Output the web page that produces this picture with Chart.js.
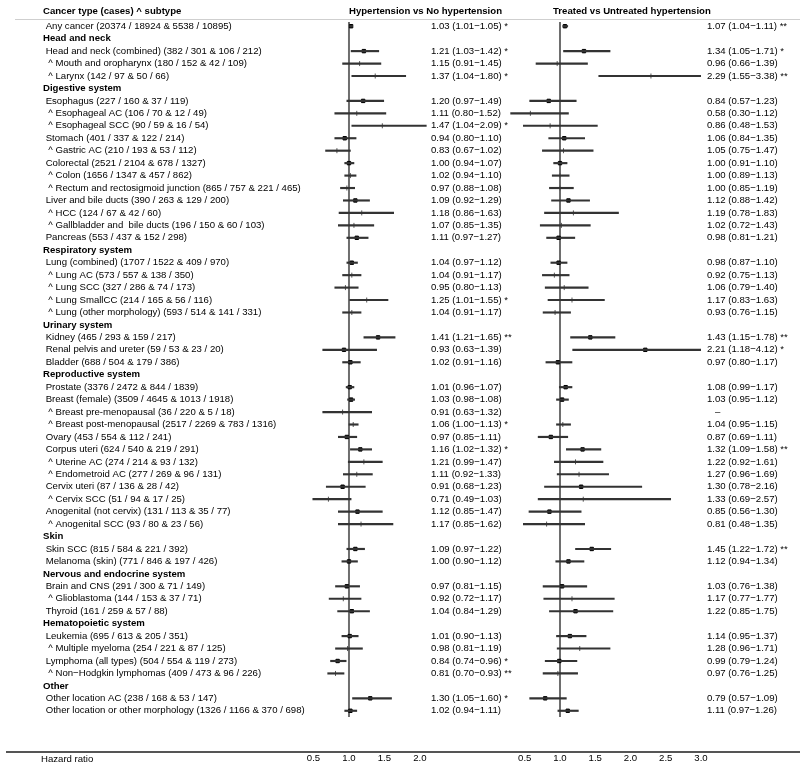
<!DOCTYPE html>
<html>
<head>
<meta charset="utf-8">
<script src="https://cdn.jsdelivr.net/npm/chart.js@4"></script>
<style>
  html, body { margin: 0; padding: 0; background: #fff; }
  #wrap { position: relative; width: 800px; height: 769px; font-family: "Liberation Sans", Arial, sans-serif; font-size: 9.6px; color: #000; }
  #wrap canvas { position: absolute; left: 0; top: 0; }
  .txt { position: absolute; white-space: pre; line-height: 12px; }
  .bold { font-weight: bold; }
  #sepTop { position: absolute; left: 15px; right: 0; top: 19px; height: 1px; background: #cfcfcf; }
  #sepBottom { position: absolute; left: 6px; right: 0; top: 751px; height: 2px; background: #555; }
</style>
</head>
<body>
<div id="wrap">
  <canvas id="c1" width="800" height="769"></canvas>
  <canvas id="c2" width="800" height="769"></canvas>
  <div id="sepTop"></div>
  <div id="sepBottom"></div>
  <div class="txt bold" style="left:43px; top:5px;">Cancer type (cases) ^ subtype</div>
  <div class="txt bold" style="left:349px; top:5px;">Hypertension vs No hypertension</div>
  <div class="txt bold" style="left:553px; top:5px;">Treated vs Untreated hypertension</div>
  <div class="txt" style="left:41px; top:753px;">Hazard ratio</div>
</div>
<script>
// rows (section headings have no estimates)
const rowLabels = [
  'Any cancer (20374 / 18924 & 5538 / 10895)',
  'Head and neck',
  'Head and neck (combined) (382 / 301 & 106 / 212)',
  '^ Mouth and oropharynx (180 / 152 & 42 / 109)',
  '^ Larynx (142 / 97 & 50 / 66)',
  'Digestive system',
  'Esophagus (227 / 160 & 37 / 119)',
  '^ Esophageal AC (106 / 70 & 12 / 49)',
  '^ Esophageal SCC (90 / 59 & 16 / 54)',
  'Stomach (401 / 337 & 122 / 214)',
  '^ Gastric AC (210 / 193 & 53 / 112)',
  'Colorectal (2521 / 2104 & 678 / 1327)',
  '^ Colon (1656 / 1347 & 457 / 862)',
  '^ Rectum and rectosigmoid junction (865 / 757 & 221 / 465)',
  'Liver and bile ducts (390 / 263 & 129 / 200)',
  '^ HCC (124 / 67 & 42 / 60)',
  '^ Gallbladder and  bile ducts (196 / 150 & 60 / 103)',
  'Pancreas (553 / 437 & 152 / 298)',
  'Respiratory system',
  'Lung (combined) (1707 / 1522 & 409 / 970)',
  '^ Lung AC (573 / 557 & 138 / 350)',
  '^ Lung SCC (327 / 286 & 74 / 173)',
  '^ Lung SmallCC (214 / 165 & 56 / 116)',
  '^ Lung (other morphology) (593 / 514 & 141 / 331)',
  'Urinary system',
  'Kidney (465 / 293 & 159 / 217)',
  'Renal pelvis and ureter (59 / 53 & 23 / 20)',
  'Bladder (688 / 504 & 179 / 386)',
  'Reproductive system',
  'Prostate (3376 / 2472 & 844 / 1839)',
  'Breast (female) (3509 / 4645 & 1013 / 1918)',
  '^ Breast pre-menopausal (36 / 220 & 5 / 18)',
  '^ Breast post-menopausal (2517 / 2269 & 783 / 1316)',
  'Ovary (453 / 554 & 112 / 241)',
  'Corpus uteri (624 / 540 & 219 / 291)',
  '^ Uterine AC (274 / 214 & 93 / 132)',
  '^ Endometroid AC (277 / 269 & 96 / 131)',
  'Cervix uteri (87 / 136 & 28 / 42)',
  '^ Cervix SCC (51 / 94 & 17 / 25)',
  'Anogenital (not cervix) (131 / 113 & 35 / 77)',
  '^ Anogenital SCC (93 / 80 & 23 / 56)',
  'Skin',
  'Skin SCC (815 / 584 & 221 / 392)',
  'Melanoma (skin) (771 / 846 & 197 / 426)',
  'Nervous and endocrine system',
  'Brain and CNS (291 / 300 & 71 / 149)',
  '^ Glioblastoma (144 / 153 & 37 / 71)',
  'Thyroid (161 / 259 & 57 / 88)',
  'Hematopoietic system',
  'Leukemia (695 / 613 & 205 / 351)',
  '^ Multiple myeloma (254 / 221 & 87 / 125)',
  'Lymphoma (all types) (504 / 554 & 119 / 273)',
  '^ Non\u2212Hodgkin lymphomas (409 / 473 & 96 / 226)',
  'Other',
  'Other location AC (238 / 168 & 53 / 147)',
  'Other location or other morphology (1326 / 1166 & 370 / 698)'
];

// Hypertension vs No hypertension
const hr1 = [1.03, null, 1.21, 1.15, 1.37, null, 1.20, 1.11, 1.47, 0.94, 0.83, 1.00, 1.02, 0.97, 1.09, 1.18, 1.07, 1.11, null, 1.04, 1.04, 0.95, 1.25, 1.04, null, 1.41, 0.93, 1.02, null, 1.01, 1.03, 0.91, 1.06, 0.97, 1.16, 1.21, 1.11, 0.91, 0.71, 1.12, 1.17, null, 1.09, 1.00, null, 0.97, 0.92, 1.04, null, 1.01, 0.98, 0.84, 0.81, null, 1.30, 1.02];
const lo1 = [1.01, null, 1.03, 0.91, 1.04, null, 0.97, 0.80, 1.04, 0.80, 0.67, 0.94, 0.94, 0.88, 0.92, 0.86, 0.85, 0.97, null, 0.97, 0.91, 0.80, 1.01, 0.91, null, 1.21, 0.63, 0.91, null, 0.96, 0.98, 0.63, 1.00, 0.85, 1.02, 0.99, 0.92, 0.68, 0.49, 0.85, 0.85, null, 0.97, 0.90, null, 0.81, 0.72, 0.84, null, 0.90, 0.81, 0.74, 0.70, null, 1.05, 0.94];
const hi1 = [1.05, null, 1.42, 1.45, 1.80, null, 1.49, 1.52, 2.09, 1.10, 1.02, 1.07, 1.10, 1.08, 1.29, 1.63, 1.35, 1.27, null, 1.12, 1.17, 1.13, 1.55, 1.17, null, 1.65, 1.39, 1.16, null, 1.07, 1.08, 1.32, 1.13, 1.11, 1.32, 1.47, 1.33, 1.23, 1.03, 1.47, 1.62, null, 1.22, 1.12, null, 1.15, 1.17, 1.29, null, 1.13, 1.19, 0.96, 0.93, null, 1.60, 1.11];
const sig1 = ['*', '', '*', '', '*', '', '', '', '*', '', '', '', '', '', '', '', '', '', '', '', '', '', '*', '', '', '**', '', '', '', '', '', '', '*', '', '*', '', '', '', '', '', '', '', '', '', '', '', '', '', '', '', '', '*', '**', '', '*', ''];

// Treated vs Untreated hypertension
const hr2 = [1.07, null, 1.34, 0.96, 2.29, null, 0.84, 0.58, 0.86, 1.06, 1.05, 1.00, 1.00, 1.00, 1.12, 1.19, 1.02, 0.98, null, 0.98, 0.92, 1.06, 1.17, 0.93, null, 1.43, 2.21, 0.97, null, 1.08, 1.03, null, 1.04, 0.87, 1.32, 1.22, 1.27, 1.30, 1.33, 0.85, 0.81, null, 1.45, 1.12, null, 1.03, 1.17, 1.22, null, 1.14, 1.28, 0.99, 0.97, null, 0.79, 1.11];
const lo2 = [1.04, null, 1.05, 0.66, 1.55, null, 0.57, 0.30, 0.48, 0.84, 0.75, 0.91, 0.89, 0.85, 0.88, 0.78, 0.72, 0.81, null, 0.87, 0.75, 0.79, 0.83, 0.76, null, 1.15, 1.18, 0.80, null, 0.99, 0.95, null, 0.95, 0.69, 1.09, 0.92, 0.96, 0.78, 0.69, 0.56, 0.48, null, 1.22, 0.94, null, 0.76, 0.77, 0.85, null, 0.95, 0.96, 0.79, 0.76, null, 0.57, 0.97];
const hi2 = [1.11, null, 1.71, 1.39, 3.38, null, 1.23, 1.12, 1.53, 1.35, 1.47, 1.10, 1.13, 1.19, 1.42, 1.83, 1.43, 1.21, null, 1.10, 1.13, 1.40, 1.63, 1.15, null, 1.78, 4.12, 1.17, null, 1.17, 1.12, null, 1.15, 1.11, 1.58, 1.61, 1.69, 2.16, 2.57, 1.30, 1.35, null, 1.72, 1.34, null, 1.38, 1.77, 1.75, null, 1.37, 1.71, 1.24, 1.25, null, 1.09, 1.26];
const sig2 = ['**', '', '*', '', '**', '', '', '', '', '', '', '', '', '', '', '', '', '', '', '', '', '', '', '', '', '**', '*', '', '', '', '', '', '', '', '**', '', '', '', '', '', '', '', '**', '', '', '', '', '', '', '', '', '', '', '', '', ''];

const xTicks1 = [0.5, 1.0, 1.5, 2.0];
const xTicks2 = [0.5, 1.0, 1.5, 2.0, 2.5, 3.0];

const FONT = '"Liberation Sans", Arial, sans-serif';
const FS = 9.6;
const isHead = hr1.map(v => v === null);
const isSub = rowLabels.map(l => l.startsWith('^'));
const shownLabels = rowLabels.map((l, i) => isHead[i] ? l : (isSub[i] ? '  ' + l : ' ' + l));

function f2(v) { return v.toFixed(2); }
function ciText(hr, lo, hi, sig) {
  return hr.map((v, i) => {
    if (isHead[i]) return '';
    if (v === null) return '   \u2013';
    return `${f2(v)} (${f2(lo[i])}\u2212${f2(hi[i])})` + (sig[i] ? ' ' + sig[i] : '');
  });
}
const ci1 = ciText(hr1, lo1, hi1, sig1);
const ci2 = ciText(hr2, lo2, hi2, sig2);

// vertical line at HR = 1
const refLine = {
  id: 'refLine',
  beforeDatasetsDraw(chart) {
    const { ctx, chartArea, scales } = chart;
    const x = scales.x.getPixelForValue(1);
    ctx.save();
    ctx.strokeStyle = '#6e6e6e';
    ctx.lineWidth = 2;
    ctx.beginPath();
    ctx.moveTo(x, chartArea.top + 2);
    ctx.lineTo(x, chartArea.bottom);
    ctx.stroke();
    ctx.restore();
  }
};

function forestDatasets(hr, lo, hi) {
  return [
    {
      type: 'bar',
      data: hr.map((v, i) => v === null ? null : [lo[i], hi[i]]),
      backgroundColor: '#333',
      barThickness: 1.5,
      borderWidth: 0,
      clip: 0,
      xAxisID: 'x',
      yAxisID: 'y'
    },
    {
      type: 'line',
      indexAxis: 'y',
      data: hr,
      showLine: false,
      pointStyle: isSub.map(s => s ? 'line' : 'rect'),
      pointRotation: isSub.map(s => s ? 90 : 0),
      pointRadius: isSub.map(s => s ? 2.5 : 2.4),
      pointBackgroundColor: '#000',
      pointBorderColor: isSub.map(s => s ? '#555' : '#000'),
      pointBorderWidth: 1,
      clip: 0,
      xAxisID: 'x',
      yAxisID: 'y'
    }
  ];
}

function xScale(min, max, ticks) {
  return {
    type: 'linear',
    position: 'bottom',
    min: min,
    max: max,
    grid: { display: false, drawTicks: false },
    border: { display: false },
    afterBuildTicks: s => { s.ticks = ticks.map(v => ({ value: v })); },
    afterFit: s => { s.height = 52; },
    ticks: {
      padding: 36,
      color: '#000',
      font: { family: FONT, size: FS },
      callback: v => v.toFixed(1)
    }
  };
}

function ciAxis(labels, width, pad) {
  return {
    type: 'category',
    position: 'right',
    labels: labels,
    offset: true,
    grid: { display: false, drawTicks: false },
    border: { display: false },
    afterFit: s => { s.width = width; },
    ticks: {
      autoSkip: false,
      crossAlign: 'near',
      padding: pad,
      color: '#000',
      font: { family: FONT, size: FS }
    }
  };
}

const common = {
  responsive: false,
  animation: false,
  devicePixelRatio: 1,
  indexAxis: 'y',
  plugins: { legend: { display: false }, tooltip: { enabled: false } }
};

// panel 1 with row labels on the left
new Chart(document.getElementById('c1'), {
  type: 'bar',
  data: { labels: shownLabels, datasets: forestDatasets(hr1, lo1, hi1) },
  options: Object.assign({}, common, {
    layout: { padding: { top: 20, left: 43, right: 0, bottom: 0 } },
    scales: {
      x: xScale(0.38, 2.1, xTicks1),
      y: {
        type: 'category',
        position: 'left',
        offset: true,
        grid: { display: false, drawTicks: false },
        border: { display: false },
        afterFit: s => { s.width = 262; },
        ticks: {
          autoSkip: false,
          crossAlign: 'far',
          padding: 0,
          color: '#000',
          font: c => ({ family: FONT, size: FS, weight: isHead[c.index] ? 'bold' : 'normal' })
        }
      },
      y2: ciAxis(ci1, 373, 4)
    }
  }),
  plugins: [refLine]
});

// panel 2
new Chart(document.getElementById('c2'), {
  type: 'bar',
  data: { labels: shownLabels, datasets: forestDatasets(hr2, lo2, hi2) },
  options: Object.assign({}, common, {
    layout: { padding: { top: 20, left: 509, right: 0, bottom: 0 } },
    scales: {
      x: xScale(0.2766, 3.0, xTicks2),
      y: ciAxis(ci2, 99, 6)
    }
  }),
  plugins: [refLine]
});
</script>
</body>
</html>
